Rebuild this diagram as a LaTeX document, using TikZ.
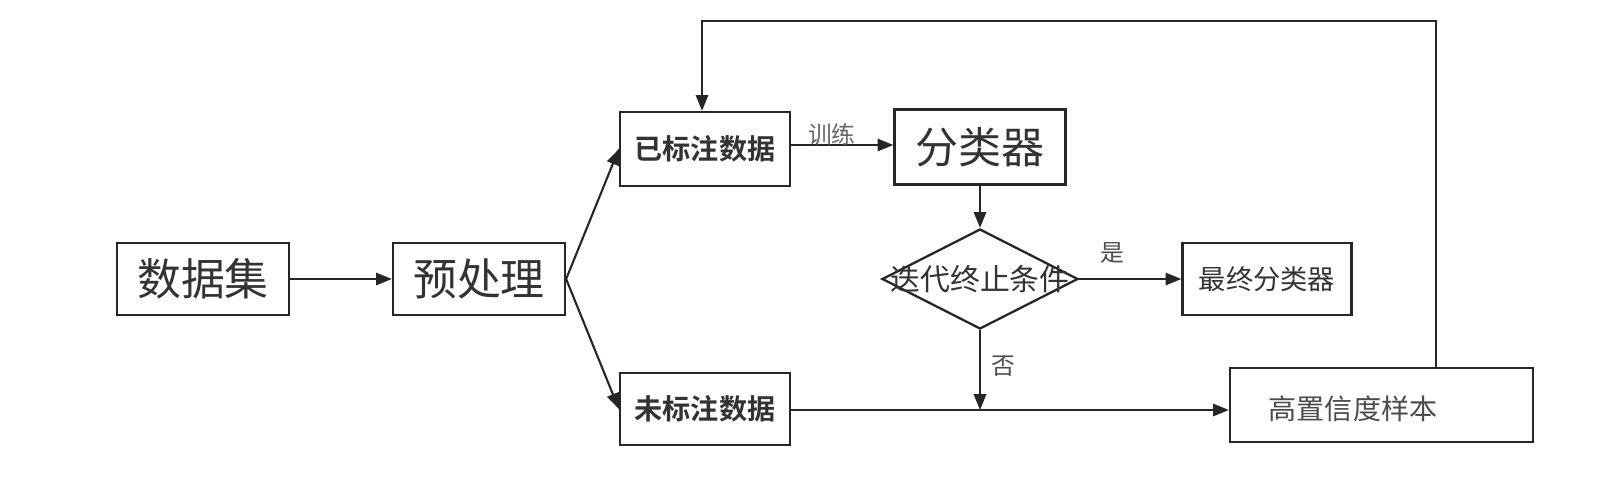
\documentclass[tikz,border=0pt]{standalone}
\usepackage{fontspec}
\newfontfamily\cjk{Noto Sans CJK SC}
\newfontfamily\cjkb{Noto Sans CJK SC Bold}
\usetikzlibrary{arrows.meta,shapes.geometric}
\newcommand{\fsz}[1]{\fontsize{#1}{#1}\selectfont}
\tikzset{
  boxnode/.style={draw=black!85, line width=1.3pt, inner sep=0pt, text=black!80},
  connector/.style={draw=black!85, line width=1.2pt},
  arr/.style={connector, -{Triangle[length=9pt,width=7pt]}},
  lbl/.style={inner sep=0pt, text=black!70, font=\cjk\fsz{13.5pt}}
}
\begin{document}
\begin{tikzpicture}[x=0.02cm, y=-0.02cm]
\useasboundingbox (0,0) rectangle (1618,481);
\fill[white] (0,0) rectangle (1618,481);

\node[boxnode, minimum width=172*0.02cm, minimum height=72*0.02cm, font=\cjk\fsz{25pt}] (ds) at (203,279) {数据集};
\node[boxnode, minimum width=172*0.02cm, minimum height=72*0.02cm, font=\cjk\fsz{25pt}] (pre) at (479,279) {预处理};
\node[boxnode, minimum width=170*0.02cm, minimum height=74*0.02cm, font=\cjkb\fsz{16pt}] (lab) at (705,149) {已标注数据};
\node[boxnode, minimum width=170*0.02cm, minimum height=72*0.02cm, font=\cjkb\fsz{16pt}] (unl) at (705,409) {未标注数据};
\node[boxnode, minimum width=171*0.02cm, minimum height=75*0.02cm, font=\cjk\fsz{24.5pt}] (clf) at (980,147) {分类器};
\node[boxnode, diamond, aspect=1.96, minimum width=196*0.02cm, minimum height=100*0.02cm, font=\cjk\fsz{17pt}] (dia) at (980,279) {};
\node[inner sep=0pt, text=black!80, font=\cjk\fsz{17pt}] (diat) at (980,279) {迭代终止条件};
\node[boxnode, minimum width=169*0.02cm, minimum height=72*0.02cm, font=\cjk\fsz{15.5pt}] (fin) at (1267,279) {最终分类器};
\node[boxnode, minimum width=303*0.02cm, minimum height=74*0.02cm] (high) at (1381.5,405) {};
\node[inner sep=0pt, text=black!70, font=\cjk\fsz{16pt}] (hight) at (1353,409) {高置信度样本};

\coordinate (join) at (980,410);
\coordinate (tr) at (1436,21);
\coordinate (tl) at (702,21);

\draw[arr] (ds.east) -- (pre.west);
\draw[arr] (pre.east) -- (lab.west);
\draw[arr] (pre.east) -- (unl.west);
\draw[arr] (lab.east |- 0,145) -- node[lbl, text=black!60, above=-1pt, xshift=-6pt] (train) {训练} (clf.west |- 0,145);
\draw[arr] (clf.south) -- (dia.north);
\draw[arr] (dia.east) -- node[lbl, above=8pt, xshift=-10pt] (yes) {是} (fin.west);
\draw[arr] (dia.south) -- node[lbl, right=6pt, pos=0.45] (no) {否} (join);
\draw[arr] (unl.east |- join) -- (high.west |- join);
\draw[arr] (high.north -| tr) -- (tr) -- (tl) -- (lab.north -| tl);
\end{tikzpicture}
\end{document}
